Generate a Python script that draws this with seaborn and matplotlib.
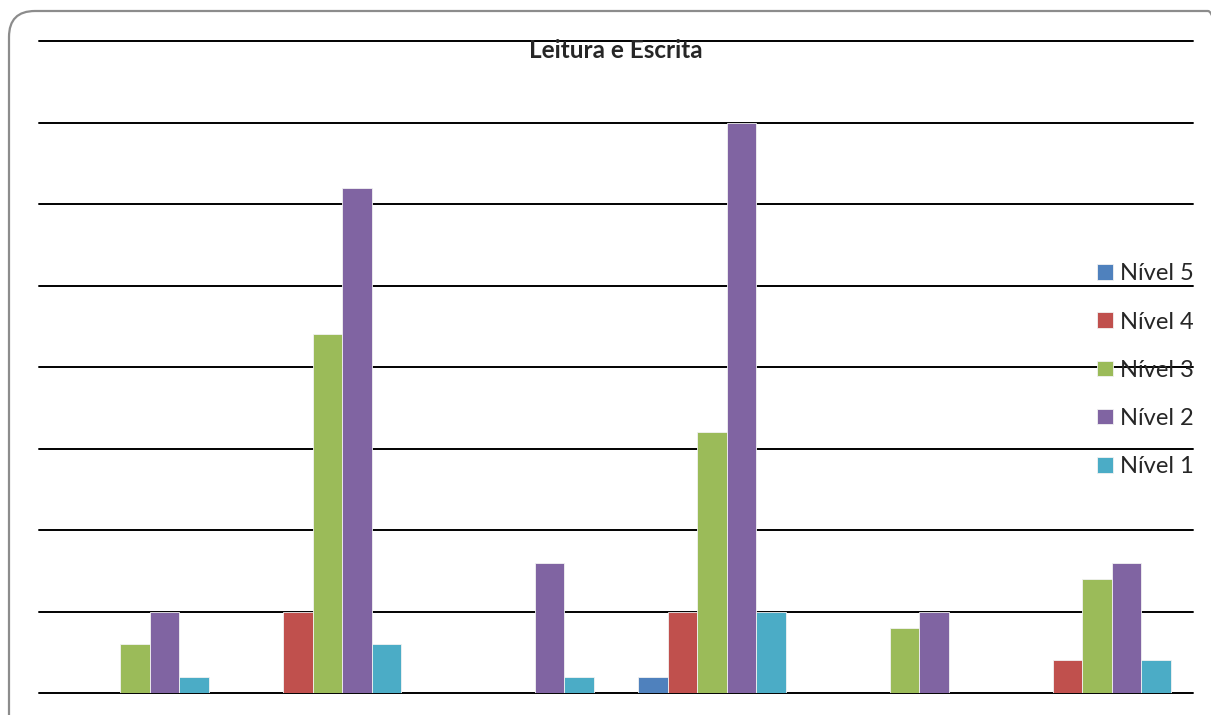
import pandas as pd
import matplotlib.pyplot as plt
import seaborn as sns
from matplotlib.patches import FancyBboxPatch
from matplotlib.transforms import IdentityTransform

# chart data
grupos = ["1", "2", "3", "4", "5", "6"]
niveis = ["Nível 5", "Nível 4", "Nível 3", "Nível 2", "Nível 1"]
nivel5 = [0, 0, 0, 1, 0, 0]
nivel4 = [0, 5, 0, 5, 0, 2]
nivel3 = [3, 22, 0, 16, 4, 7]
nivel2 = [5, 31, 8, 35, 5, 8]
nivel1 = [1, 3, 1, 5, 0, 2]
cores = ["#4F81BD", "#C0504D", "#9BBB59", "#8064A2", "#4BACC6"]

df = pd.DataFrame({"grupo": grupos, "Nível 5": nivel5, "Nível 4": nivel4,
                   "Nível 3": nivel3, "Nível 2": nivel2, "Nível 1": nivel1})
df = df.melt(id_vars="grupo", var_name="nivel", value_name="valor")

sns.set_style("white")
plt.rcParams["font.family"] = ["Lato", "DejaVu Sans"]

fig = plt.figure(figsize=(12.11, 7.15), dpi=100)
ax = fig.add_axes([39 / 1211, 22 / 715, 1154 / 1211, 652 / 715])

sns.barplot(data=df, x="grupo", y="valor", hue="nivel", hue_order=niveis,
            palette=cores, saturation=1, width=0.768, edgecolor="#f2f2f2",
            linewidth=0.6, errorbar=None, ax=ax)

ax.set_ylim(0, 40)
ax.set_xlim(-0.5, 5.5)
ax.set_yticks(range(0, 41, 5))
ax.yaxis.grid(True, color="black", linewidth=1.4)
ax.set_axisbelow(True)
for g in ax.get_ygridlines():
    g.set_clip_on(False)
ax.set_xticks([])
ax.set_yticklabels([])
ax.tick_params(left=False, bottom=False)
ax.set_xlabel("")
ax.set_ylabel("")
for s in ax.spines.values():
    s.set_visible(False)

# title sits just under the top gridline
fig.text(616 / 1211, 1 - 51 / 715, "Leitura e Escrita", fontsize=17.5,
         fontweight="bold", ha="center", va="center")

ax.get_legend().remove()
handles, labels = ax.get_legend_handles_labels()
fig.legend(handles[:5], labels[:5], loc="upper right",
           bbox_to_anchor=(1203 / 1211, 1 - 254 / 715), frameon=False,
           fontsize=17, handlelength=0.65, handleheight=0.65,
           handletextpad=0.3, labelspacing=1.15, borderaxespad=0)

# rounded border around the chart area (pixel coords)
borda = FancyBboxPatch((9, -30), 1225, 734,
                       boxstyle="round,pad=0,rounding_size=26",
                       transform=IdentityTransform(), facecolor="none",
                       edgecolor="#8c8c8c", linewidth=1.6, clip_on=False)
fig.patches.append(borda)

fig.savefig("out.png", dpi=100)
